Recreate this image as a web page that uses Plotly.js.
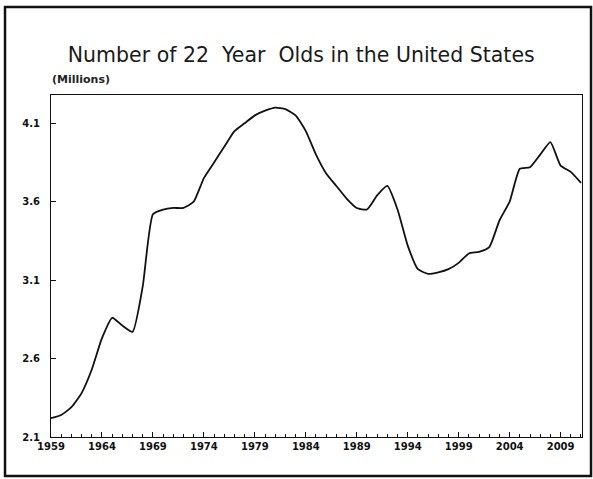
<!DOCTYPE html>
<html>
<head>
<meta charset="utf-8">
<script src="https://cdn.plot.ly/plotly-3.0.1.min.js"></script>
<style>
html,body{margin:0;padding:0;background:#fff;}
#chart{width:593px;height:479px;}
</style>
</head>
<body>
<div id="chart"></div>
<script>
// Year of observation
const years = [1959,1960,1961,1962,1963,1964,1965,1966,1967,1968,1969,
  1970,1971,1972,1973,1974,1975,1976,1977,1978,1979,
  1980,1981,1982,1983,1984,1985,1986,1987,1988,1989,
  1990,1991,1992,1993,1994,1995,1996,1997,1998,1999,
  2000,2001,2002,2003,2004,2005,2006,2007,2008,2009,2010,2011];
// Number of 22-year-olds (millions), read/
const millions = [2.22,2.24,2.29,2.38,2.53,2.73,2.86,2.81,2.77,3.06,3.52,
  3.55,3.56,3.56,3.60,3.75,3.85,3.95,4.05,4.10,4.15,
  4.18,4.20,4.19,4.15,4.05,3.90,3.78,3.70,3.62,3.56,
  3.55,3.64,3.70,3.55,3.32,3.17,3.14,3.15,3.17,3.21,
  3.27,3.28,3.31,3.48,3.60,3.81,3.82,3.90,3.98,3.83,3.79,3.72];
const yTicks = [2.1,2.6,3.1,3.6,4.1];
const yTickText = ["2.1","2.6","3.1","3.6","4.1"];
const xTicks = [1959,1964,1969,1974,1979,1984,1989,1994,1999,2004,2009];

const trace = {
  x: years, y: millions, type: 'scatter', mode: 'lines',
  line: {color: '#111', width: 1.8, shape: 'spline', smoothing: 0.5},
  hoverinfo: 'x+y'
};

const tickFont = {family: 'DejaVu Sans, sans-serif', size: 10, color: '#111', weight: 'bold'};

const layout = {
  width: 593, height: 479,
  margin: {l: 51, r: 11, t: 95, b: 42},
  paper_bgcolor: '#fff', plot_bgcolor: '#fff',
  showlegend: false,
  title: {
    text: 'Number of 22  Year  Olds in the United States',
    font: {family: 'DejaVu Sans, sans-serif', size: 20.5, color: '#1a1a1a'},
    xref: 'container', x: 0.508, xanchor: 'center',
    yref: 'container', y: 1 - 55/479, yanchor: 'middle'
  },
  xaxis: {
    range: [1959, 2011.1],
    tickvals: xTicks,
    ticktext: xTicks.map(String),
    ticks: 'inside', ticklen: 5, tickwidth: 1, tickcolor: '#111',
    minor: {dtick: 1, ticks: 'inside', ticklen: 3, tickcolor: '#111'},
    showline: true, linecolor: '#111', linewidth: 1, mirror: true,
    showgrid: false, zeroline: false,
    tickfont: tickFont
  },
  yaxis: {
    range: [2.1, 4.28],
    tickvals: yTicks,
    ticktext: yTickText,
    ticks: 'inside', ticklen: 5, tickwidth: 1, tickcolor: '#111',
    ticklabelstandoff: 8,
    showline: true, linecolor: '#111', linewidth: 1, mirror: true,
    showgrid: false, zeroline: false,
    tickfont: tickFont
  },
  annotations: [{
    text: '(Millions)', xref: 'paper', yref: 'paper',
    x: -0.002, y: 1.044, xanchor: 'left', yanchor: 'middle',
    showarrow: false,
    font: {family: 'DejaVu Sans, sans-serif', size: 11, color: '#222', weight: 'bold'}
  }],
  shapes: [{
    type: 'rect', xref: 'paper', yref: 'paper',
    x0: -0.0866, x1: 1.017, y0: -0.114, y1: 1.257,
    line: {color: '#111', width: 2.5}
  }]
};

Plotly.newPlot('chart', [trace], layout, {displayModeBar: false, staticPlot: true});
</script>
</body>
</html>
